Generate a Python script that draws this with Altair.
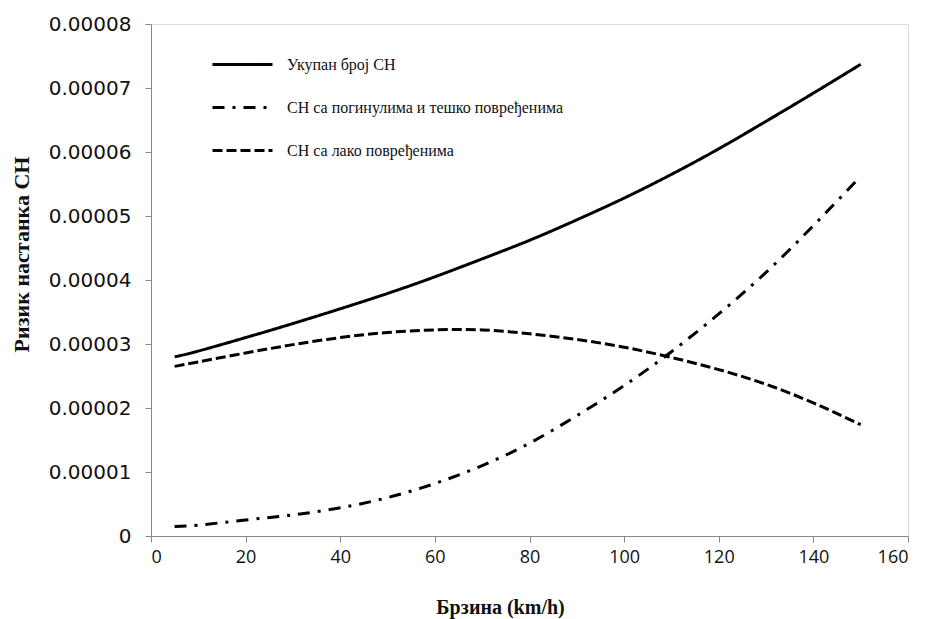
import altair as alt
import pandas as pd

speed = [5, 10, 20, 30, 40, 50, 60, 70, 80, 90, 100, 110, 120, 130, 140, 150]
total = [2.80, 2.89, 3.10, 3.32, 3.55, 3.79, 4.05, 4.33, 4.62, 4.94, 5.28, 5.65, 6.05, 6.48, 6.92, 7.37]
severe = [0.15, 0.17, 0.25, 0.33, 0.44, 0.60, 0.82, 1.10, 1.45, 1.88, 2.35, 2.88, 3.47, 4.12, 4.85, 5.62]
light = [2.65, 2.72, 2.86, 2.99, 3.10, 3.18, 3.22, 3.22, 3.16, 3.07, 2.95, 2.79, 2.60, 2.37, 2.08, 1.74]

series_names = [
    "Укупан број СН",
    "СН са погинулима и тешко повређенима",
    "СН са лако повређенима",
]
y_ticks = [0, 0.00001, 0.00002, 0.00003, 0.00004, 0.00005, 0.00006, 0.00007, 0.00008]
x_ticks = [0, 20, 40, 60, 80, 100, 120, 140, 160]

rows = []
for name, vals in zip(series_names, [total, severe, light]):
    for s, v in zip(speed, vals):
        rows.append({"speed": s, "risk": v * 1e-5, "series": name})
df = pd.DataFrame(rows)

serif = "Liberation Serif, Times New Roman, serif"

chart = alt.Chart(df).mark_line(
    interpolate="natural", strokeWidth=3, color="black", strokeCap="butt"
).encode(
    x=alt.X(
        "speed:Q",
        scale=alt.Scale(domain=[0, 160], nice=False),
        axis=alt.Axis(
            values=x_ticks,
            title="Брзина (km/h)",
            titleFont=serif,
            titleFontSize=20,
            titleFontWeight="bold",
            titleColor="#111",
            titleX=349,
            titleY=77,
            titleAlign="center",
            titleBaseline="alphabetic",
            labelFont="Open Sans",
            labelFontSize=18,
            labelColor="#111",
            labelPadding=6,
            grid=False,
            domainColor="#888",
            tickColor="#888",
            tickSize=6,
        ),
    ),
    y=alt.Y(
        "risk:Q",
        scale=alt.Scale(domain=[0, 0.00008], nice=False),
        axis=alt.Axis(
            values=y_ticks,
            labelExpr="datum.value == 0 ? '0' : format(datum.value, '.5f')",
            title="Ризик настанка СН",
            titleFont=serif,
            titleFontSize=22,
            titleFontWeight="bold",
            titleColor="#111",
            titleX=-130,
            titleY=230,
            titleAngle=-90,
            titleAlign="center",
            titleBaseline="middle",
            labelFont="DejaVu Sans",
            labelFontSize=20,
            labelColor="#111",
            labelPadding=14,
            grid=False,
            domainColor="#888",
            tickColor="#888",
            tickSize=6,
        ),
    ),
    strokeDash=alt.StrokeDash(
        "series:N",
        scale=alt.Scale(domain=series_names, range=[[1, 0], [12, 8, 3, 8], [10, 4]]),
        legend=alt.Legend(
            orient="none",
            legendX=60,
            legendY=9,
            title=None,
            symbolType="stroke",
            symbolSize=3600,
            symbolStrokeWidth=3,
            symbolStrokeColor="black",
            labelFont=serif,
            labelFontSize=16,
            labelColor="#111",
            labelOffset=13,
            rowPadding=3,
            labelLimit=400,
        ),
    ),
).properties(
    width=757,
    height=512,
    autosize=alt.AutoSizeParams(type="none"),
    padding={"left": 151, "top": 24, "right": 22, "bottom": 83},
).configure_view(stroke=None).configure(background="white")

chart.save("out.html", embed_options={"renderer": "svg", "actions": False})
